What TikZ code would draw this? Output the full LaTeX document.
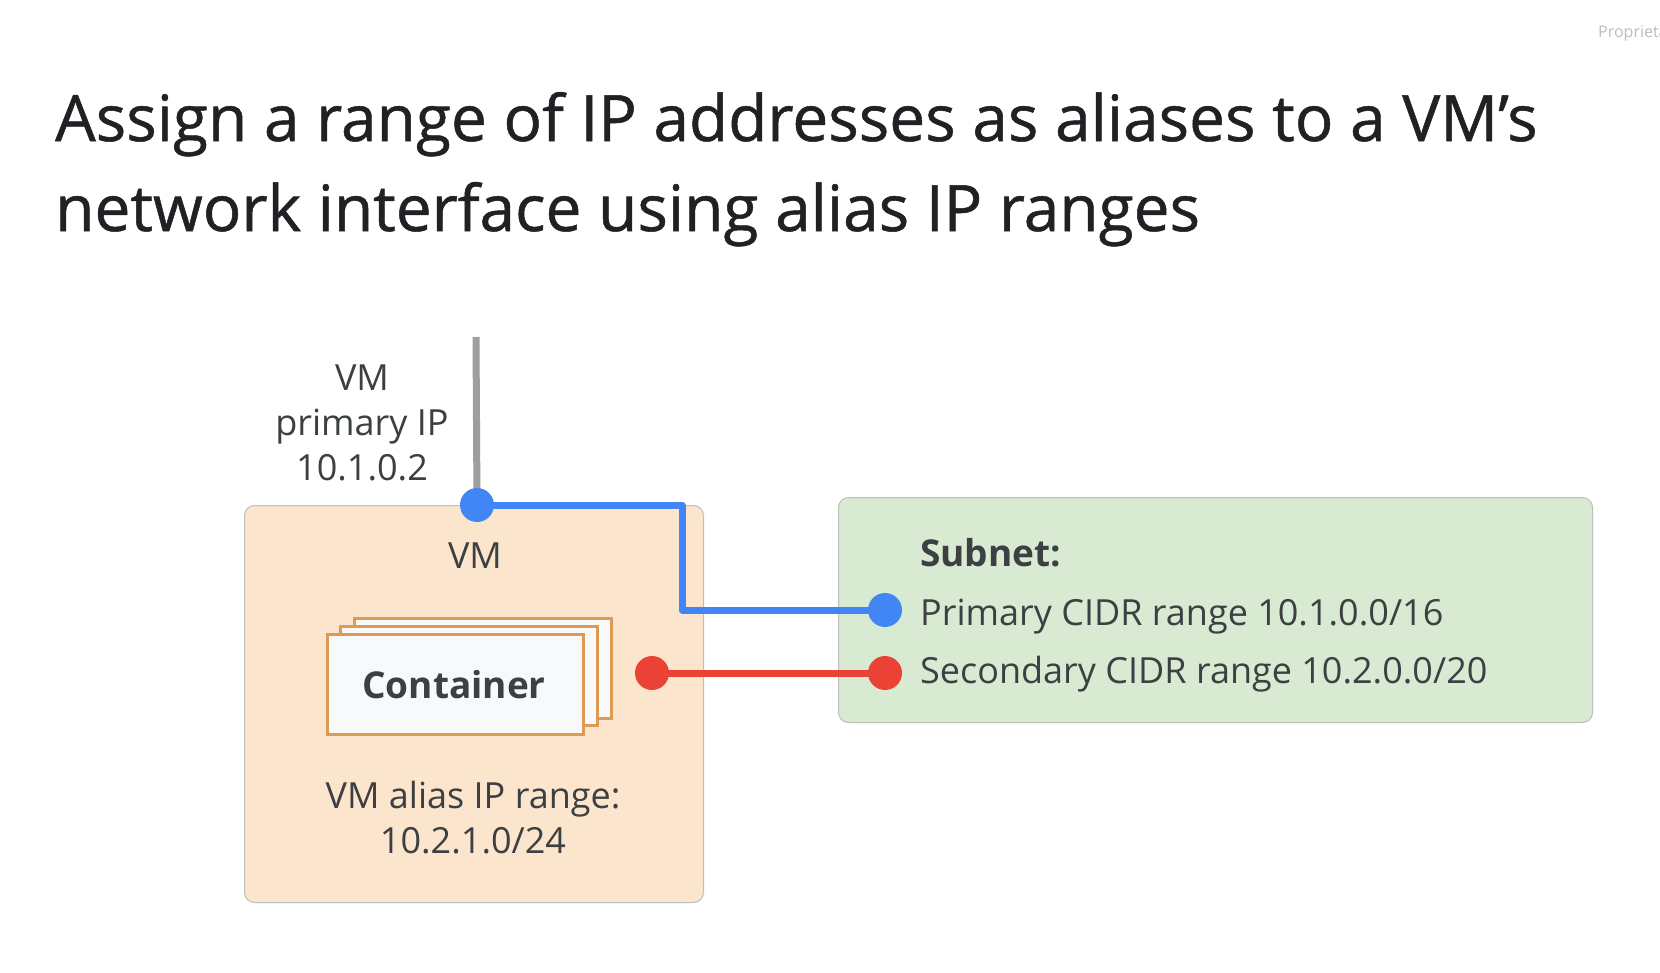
\documentclass[tikz,border=0pt]{standalone}
\usepackage{fontspec}
\setmainfont{Open Sans}
\newfontfamily\ttlfont[FakeBold=0.8]{Open Sans}
\definecolor{gblue}{HTML}{4285F4}
\definecolor{gred}{HTML}{EA4335}
\definecolor{ggray}{HTML}{9E9E9E}
\definecolor{vmfill}{HTML}{FCE5CD}
\definecolor{subfill}{HTML}{D9EAD3}
\definecolor{boxline}{HTML}{BDBDBD}
\definecolor{contline}{HTML}{DD9A52}
\definecolor{contfill}{HTML}{F8F9FA}
\definecolor{txt}{HTML}{3C4043}
\definecolor{titletxt}{HTML}{202124}
\tikzset{
  dot/.style={circle, fill=#1, minimum size=34pt, inner sep=0pt},
  wire/.style={line width=7pt, draw=#1},
  lbl/.style={text=txt, font=\fontsize{36}{45}\selectfont, inner sep=0pt},
  boldlbl/.style={lbl, font=\fontsize{37}{45}\selectfont\bfseries},
  ttl/.style={text=titletxt, font=\ttlfont\fontsize{64}{90}\selectfont, anchor=base west, inner sep=0pt},
  bigbox/.style={draw=boxline, line width=1pt, rounded corners=10pt},
  contbox/.style={draw=contline, fill=contfill, line width=3pt},
}
\begin{document}
\begin{tikzpicture}[x=1pt,y=-1pt]
\useasboundingbox (0,0) rectangle (1660,972);
\fill[white] (0,0) rectangle (1660,972);
\begin{scope}
\clip (0,0) rectangle (1660,972);
\node[anchor=base west, text=boxline, font=\fontsize{16}{20}\selectfont, inner sep=0pt] (prop) at (1598,37) {Proprietary};
\end{scope}
\node[ttl] (title1) at (55,141) {Assign a range of IP addresses as aliases to a VM’s};
\node[ttl] (title2) at (55,231) {network interface using alias IP ranges};

% boxes
\node[bigbox, fill=vmfill, minimum width=459pt, minimum height=397pt, anchor=north west] (vm) at (244,505) {};
\node[bigbox, fill=subfill, minimum width=754pt, minimum height=225pt, anchor=north west] (subnet) at (838,497) {};

% containers
\node[contbox, minimum width=257pt, minimum height=100pt, anchor=north west] (c3) at (353,617) {};
\node[contbox, minimum width=257pt, minimum height=99pt, anchor=north west] (c2) at (339,625) {};
\node[contbox, minimum width=256pt, minimum height=100pt, anchor=north west] (c1) at (326,633) {};
\node[boldlbl, anchor=base] (ctext) at (454,698) {Container};

% labels
\node[lbl, anchor=base] (vmlbl) at (475,568) {VM};
\node[lbl, anchor=base] (pip1) at (362,390) {VM};
\node[lbl, anchor=base] (pip2) at (362,435) {primary IP};
\node[lbl, anchor=base] (pip3) at (362,480) {10.1.0.2};
\node[lbl, anchor=base] (al1) at (473,808) {VM alias IP range:};
\node[lbl, anchor=base] (al2) at (473,853) {10.2.1.0/24};
\node[boldlbl, anchor=base west] (sub) at (920,566) {Subnet:};
\node[lbl, anchor=base west] (prim) at (920,625) {Primary CIDR range 10.1.0.0/16};
\node[lbl, anchor=base west] (sec) at (920,683) {Secondary CIDR range 10.2.0.0/20};

% connectors
\coordinate (gtop) at (476,337);
\coordinate (bp1) at (477,505);
\coordinate (bp2) at (885,610);
\coordinate (rp1) at (652,673);
\coordinate (rp2) at (885,673);
\draw[wire=ggray] (gtop) -- (bp1);
\draw[wire=gblue, line join=round] (bp1) -- (682,505) -- (682,610) -- (bp2);
\draw[wire=gred] (rp1) -- (rp2);
\node[dot=gblue] (bd1) at (bp1) {};
\node[dot=gblue] (bd2) at (bp2) {};
\node[dot=gred] (rd1) at (rp1) {};
\node[dot=gred] (rd2) at (rp2) {};
\end{tikzpicture}
\end{document}
